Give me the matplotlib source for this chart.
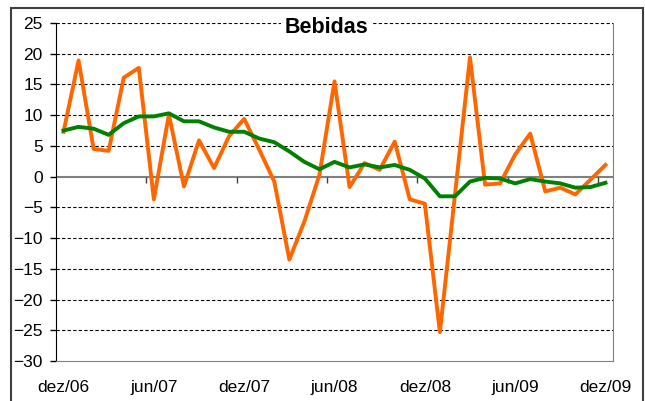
import numpy as np
import matplotlib
matplotlib.use('Agg')
import matplotlib.pyplot as plt
from matplotlib.patches import Rectangle

# meses de dez/06 a dez/09
rotulos = ["dez/06", "jun/07", "dez/07", "jun/08", "dez/08", "jun/09", "dez/09"]

# variacao mensal (laranja) e media movel (verde)
mensal = [7.3, 18.9, 4.5, 4.2, 16.1, 17.7, -3.7, 10.1, -1.6, 5.9, 1.4, 6.6, 9.4,
          4.4, -0.8, -13.5, -7.3, 0.3, 15.5, -1.7, 2.2, 1.1, 5.7, -3.7, -4.4,
          -25.3, -3.0, 19.4, -1.3, -1.1, 3.6, 7.0, -2.4, -1.8, -2.9, -0.5, 1.9]
media = [7.5, 8.1, 7.8, 6.8, 8.7, 9.8, 9.8, 10.3, 9.0, 9.0, 8.0, 7.3, 7.3,
         6.2, 5.6, 4.1, 2.4, 1.2, 2.4, 1.5, 2.0, 1.5, 1.9, 1.1, -0.3,
         -3.2, -3.2, -0.8, -0.2, -0.3, -1.1, -0.4, -0.8, -1.1, -1.8, -1.7, -1.0]

plt.rcParams['font.family'] = ['Liberation Sans', 'DejaVu Sans']

fig = plt.figure(figsize=(6.45, 4.01), dpi=100)
ax = fig.add_axes([56/645, 1-361/401, 557/645, 338/401])

x = np.arange(len(mensal))
ax.set_xlim(-0.5, len(mensal)-0.5)
ax.set_ylim(-30, 25)

# grade tracejada
for v in np.arange(-25, 30, 5):
    if v != 0:
        ax.axhline(v, color='black', lw=0.8, ls=(0, (3, 2)), zorder=1)
ax.axhline(0, color='#808080', lw=1.5, zorder=2)
ax.vlines(np.arange(5.5, len(mensal), 6), -1.0, 0, color='#404040', lw=1, zorder=2)

ax.plot(x, mensal, color='#FF6600', lw=2.8, zorder=3)
ax.plot(x, media, color='#008000', lw=2.8, zorder=4)

ax.set_yticks(np.arange(-30, 30, 5))
ax.tick_params(axis='y', length=4.5, width=1, pad=5, labelsize=12.5)
ax.set_xticks(x[::6])
ax.set_xticklabels(rotulos)
ax.tick_params(axis='x', length=0, pad=14, labelsize=12.5)

ax.spines['top'].set_visible(False)
ax.spines['left'].set_color('black')
ax.spines['right'].set_color('#808080')
ax.spines['bottom'].set_color('#808080')

ax.text(0.485, 24.2, "Bebidas", transform=ax.get_yaxis_transform(), ha='center',
        va='center', fontsize=15.5, fontweight='bold', zorder=5,
        bbox=dict(facecolor='white', edgecolor='none', pad=2))

fig.patches.append(Rectangle((11/645, -0.02), 632/645, 393/401 + 0.02,
                             transform=fig.transFigure, fill=False,
                             edgecolor='#404040', lw=1.5))

plt.savefig("out.png", dpi=100)
